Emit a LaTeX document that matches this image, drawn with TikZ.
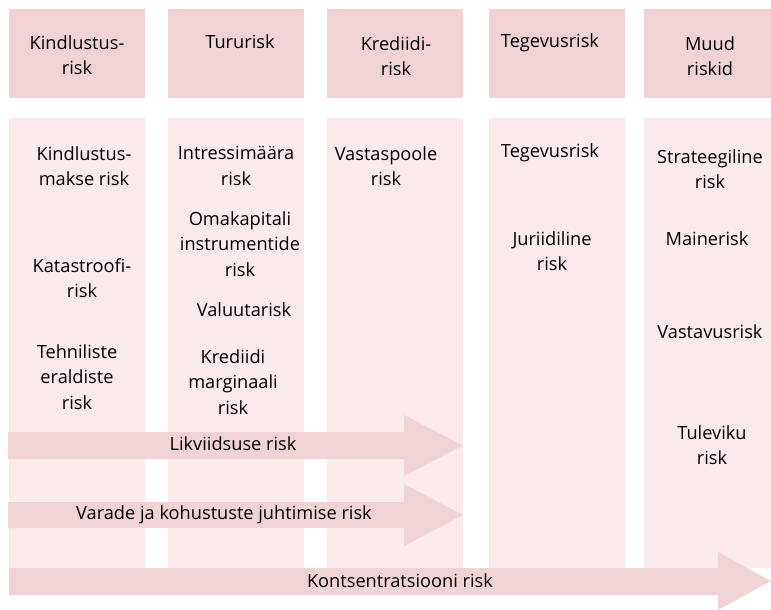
\documentclass[tikz,border=0pt]{standalone}
\usepackage{fontspec}
\setmainfont{Open Sans}
\usetikzlibrary{positioning}
\definecolor{headpink}{RGB}{241,211,214}
\definecolor{bodypink}{RGB}{249,235,236}

\begin{document}
\begin{tikzpicture}[x=1pt, y=-1pt,
		txt/.style={align=center, inner sep=0pt, font=\fontsize{18.2}{25.5}\selectfont},
		band/.style={fill=headpink}]
			\useasboundingbox (0,0) rectangle (771,610);
			% columns
			\foreach \xa/\xb in {9/145, 168/304, 327/463, 489/625, 644/771} {
				\fill[headpink] (\xa,9) rectangle (\xb,98);
				\fill[bodypink] (\xa,118) rectangle (\xb,568);
			}
			% header row
			\node[txt, name=hkind] at (77,55) {Kindlustus-\\risk};
			\node[txt, name=hturu] at (240,42) {Tururisk};
			\node[txt, name=hkred] at (396,56) {Krediidi-\\risk};
			\node[txt, name=hteg] at (550,43) {Tegevusrisk};
			\node[txt, name=hmuud] at (710,56) {Muud\\riskid};
			% insurance
			\node[txt, name=kmakse] at (84,166) {Kindlustus-\\makse risk};
			\node[txt, name=kkat] at (82,278) {Katastroofi-\\risk};
			\node[txt, name=kteh] at (77,377) {Tehniliste\\eraldiste\\risk};
			% market
			\node[txt, name=tintr] at (236,166) {Intressimäära\\risk};
			\node[txt, name=tomak] at (240,244) {Omakapitali\\instrumentide\\risk};
			\node[txt, name=tval] at (244,310) {Valuutarisk};
			\node[txt, name=tkred] at (233,382) {Krediidi\\marginaali\\risk};
			% credit
			\node[txt, name=cvast] at (386,166) {Vastaspoole\\risk};
			% operational
			\node[txt, name=oteg] at (550,153) {Tegevusrisk};
			\node[txt, name=ojur] at (552,251) {Juriidiline\\risk};
			% other
			\node[txt, name=mstrat] at (710,169) {Strateegiline\\risk};
			\node[txt, name=mmaine] at (707,239) {Mainerisk};
			\node[txt, name=mvast] at (710,332) {Vastavusrisk};
			\node[txt, name=mtul] at (712,445) {Tuleviku\\risk};
			% arrows across columns
			\fill[band] (8,432) -- (404,432) -- (404,415) -- (463,445.5) -- (404,476) -- (404,459) -- (8,459) -- cycle;
			\fill[band] (8,502) -- (404,502) -- (404,484) -- (463,515) -- (404,546) -- (404,528) -- (8,528) -- cycle;
			\fill[band] (9,568) -- (718,568) -- (718,552) -- (771,581) -- (718,610) -- (718,595) -- (9,595) -- cycle;
			\node[txt, name=likv] at (233,444) {Likviidsuse risk};
			\node[txt, name=varad] at (224,515) {Varade ja kohustuste juhtimise risk};
			\node[txt, name=konts] at (400,581) {Kontsentratsiooni risk};
		\end{tikzpicture}
\end{document}
